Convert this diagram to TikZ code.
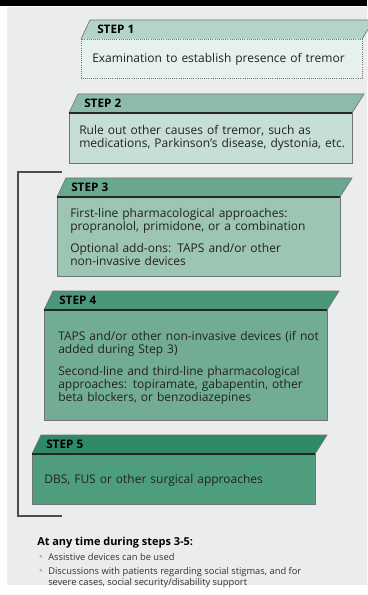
\documentclass[tikz,border=0pt]{standalone}
\usepackage{fontspec}
\setmainfont{Open Sans}
\usetikzlibrary{positioning}

\definecolor{bggray}{HTML}{EBECEE}
\definecolor{hdA}{HTML}{B3D4C7}
\definecolor{bxA}{HTML}{E6F0EC}
\definecolor{hdB}{HTML}{8CBCA9}
\definecolor{bxB}{HTML}{C6DED4}
\definecolor{hdC}{HTML}{69A88F}
\definecolor{bxC}{HTML}{9CC5B3}
\definecolor{hdD}{HTML}{4A977A}
\definecolor{bxD}{HTML}{73AC94}
\definecolor{hdE}{HTML}{2E8A67}
\definecolor{bxE}{HTML}{4E9E7E}
\definecolor{txt}{HTML}{222222}

\begin{document}
\begin{tikzpicture}[x=0.75pt,y=-0.75pt,
    steplabel/.style={anchor=west,inner sep=0pt,font=\fontsize{8.8}{10}\selectfont\bfseries,text=black},
    steptext/.style={anchor=north west,inner sep=0pt,align=left,text width=#1,
      font=\fontsize{9}{9.7}\selectfont,text=txt},
    note/.style={anchor=north west,inner sep=0pt,align=left,
      font=\fontsize{7}{8.3}\selectfont,text=black!80},
    bulletmark/.style={anchor=west,inner sep=0pt,font=\fontsize{5}{6}\selectfont,text=black!55},
    edge/.style={draw=black!55,line width=0.5pt},
    bracket/.style={draw=black!70,line width=0.9pt}]
  \useasboundingbox (0,0) rectangle (367,595);
  % background and top bar
  \fill[bggray] (7,7) rectangle (367,585);
  \fill[black] (0,0) rectangle (367,6);

  % step 1 (dotted box)
  \fill[hdA] (90,20) -- (374,20) -- (362,39) -- (81,39) -- cycle;
  \draw[edge] (81,39) -- (90,20) -- (374,20) -- (362,39);
  \fill[bxA] (81,39) rectangle (362,78);
  \draw[black!55,densely dotted,line width=0.6pt] (81,39) rectangle (362,78);

  % steps 2-5
  \foreach \n/\l/\r/\t/\b in {B/69/352/94/163, C/57/340/178/276,
                              D/44/327/291/420, E/32/315/435/504}{
    \fill[hd\n] (\l+9,\t) -- (\r+12,\t) -- (\r,\t+19) -- (\l,\t+19) -- cycle;
    \draw[edge] (\l,\t+19) -- (\l+9,\t) -- (\r+12,\t) -- (\r,\t+19);
    \fill[bx\n] (\l,\t+19) rectangle (\r,\b);
    \draw[edge] (\l,\t+19) rectangle (\r,\b);
    \draw[black!85,line width=0.9pt] (\l,\t+19) -- (\r,\t+19);
  }

  % bracket for steps 3-5
  \coordinate (bt) at (62,172);
  \coordinate (bb) at (62,516);
  \draw[bracket] (bt) -- (18,172) -- (18,516) -- (bb);

  % labels
  \node[steplabel] (l1) at (97,29.5) {STEP 1};
  \node[steplabel] (l2) at (84,103.5) {STEP 2};
  \node[steplabel] (l3) at (71,187.5) {STEP 3};
  \node[steplabel] (l4) at (59,300) {STEP 4};
  \node[steplabel] (l5) at (46,444) {STEP 5};

  % texts
  \node[steptext=210pt] (t1) at (92,53) {Examination to establish presence of tremor};
  \node[steptext=210pt] (t2) at (79,125.5) {Rule out other causes of tremor, such as\\
    medications, Parkinson’s disease, dystonia, etc.};
  \node[steptext=210pt] (t3a) at (70,208) {First-line pharmacological approaches:\\
    propranolol, primidone, or a combination};
  \node[steptext=210pt] (t3b) at (70,243) {Optional add-ons: TAPS and/or other\\
    non-invasive devices};
  \node[steptext=210pt] (t4a) at (58,331.5) {TAPS and/or other non-invasive devices (if not\\
    added during Step 3)};
  \node[steptext=210pt] (t4b) at (58,366.5) {Second-line and third-line pharmacological\\
    approaches: topiramate, gabapentin, other\\ beta blockers, or benzodiazepines};
  \node[steptext=210pt] (t5) at (44,474) {DBS, FUS or other surgical approaches};

  % notes below
  \node[anchor=west,inner sep=0pt,font=\fontsize{8.2}{9}\selectfont\bfseries,text=black]
    (any) at (37,543) {At any time during steps 3-5:};
  \node[bulletmark] (m1) at (39,557) {»};
  \node[bulletmark] (m2) at (39,571) {»};
  \node[note] (n1) at (48,553) {Assistive devices can be used};
  \node[note] (n2) at (48,567) {Discussions with patients regarding social stigmas, and for\\
    severe cases, social security/disability support};
\end{tikzpicture}
\end{document}
